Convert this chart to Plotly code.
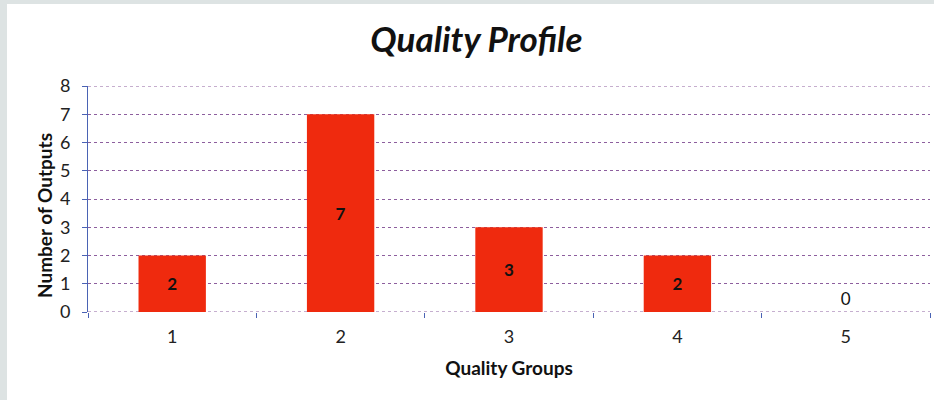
import plotly.graph_objects as go

W, H = 934, 400
M_L, M_R, M_T, M_B = 88, 4, 86, 88

groups = ["1", "2", "3", "4", "5"]
outputs = [2, 7, 3, 2, 0]
y_ticks = [0, 1, 2, 3, 4, 5, 6, 7, 8]

BAR_RED = "#ef2a0e"
GRID = "#8d5f9e"
AXIS_BLUE = "#4a63b4"
FONT = "Lato, 'Open Sans', sans-serif"

labels = [f"<b>{v}</b>" if v > 0 else str(v) for v in outputs]
positions = ["inside" if v > 0 else "outside" for v in outputs]

fig = go.Figure(go.Bar(
    x=groups, y=outputs,
    width=0.4,
    marker=dict(color=BAR_RED, line=dict(width=0)),
    text=labels, textposition=positions,
    insidetextanchor="middle",
    textfont=dict(family=FONT, size=17, color="#111111"),
    cliponaxis=False,
))

plot_w = W - M_L - M_R
plot_h = H - M_T - M_B

# grey frame of the scanned page (top and left strips)
fig.add_shape(
    type="rect", xref="paper", yref="paper", layer="below",
    x0=(7 - M_L) / plot_w, x1=(W - M_L + 5) / plot_w,
    y0=(H - M_B - H - 5) / plot_h, y1=(H - M_B - 4) / plot_h,
    fillcolor="white", line=dict(width=0),
)

# plotly drops gridlines at the range ends, so draw the 0 and 8 lines
for yv in (y_ticks[0], y_ticks[-1]):
    fig.add_hline(y=yv, line=dict(color=GRID, width=1, dash="dot"), layer="below")

# y axis title sits a little below the plot centre in the original
fig.add_annotation(
    text="<b>Number of Outputs</b>", textangle=-90,
    xref="paper", yref="paper",
    x=(44 - M_L) / plot_w, y=(H - M_B - 216) / plot_h,
    xanchor="center", yanchor="middle", showarrow=False,
    font=dict(family=FONT, size=19, color="#111111"),
)

fig.update_layout(
    width=W, height=H,
    margin=dict(l=M_L, r=M_R, t=M_T, b=M_B),
    paper_bgcolor="#dde3e3",
    plot_bgcolor="rgba(0,0,0,0)",
    font=dict(family=FONT, color="#111111"),
    title=dict(
        text="<b><i>Quality Profile</i></b>",
        x=0.51, xanchor="center", y=0.9, yanchor="middle",
        font=dict(family=FONT, size=35, color="#111111"),
    ),
    showlegend=False,
)
fig.update_xaxes(
    type="category", categoryorder="array", categoryarray=groups,
    range=[-0.5, 4.5],
    showgrid=False,
    showline=False,
    ticks="outside", tickson="boundaries", ticklen=5, tickcolor=AXIS_BLUE,
    ticklabelstandoff=12,
    tickfont=dict(size=18, color="#222222"),
    title=dict(text="<b>Quality Groups</b>", font=dict(size=19, color="#111111"), standoff=15),
)
fig.update_yaxes(
    range=[0, 8], tickvals=y_ticks,
    showgrid=True, gridcolor=GRID, griddash="dot", gridwidth=1,
    zeroline=False,
    showline=True, linecolor=AXIS_BLUE, linewidth=1,
    ticks="outside", ticklen=5, tickcolor=AXIS_BLUE,
    ticklabelstandoff=8,
    tickfont=dict(size=18, color="#222222"),
)

fig.write_html(
    "out.html",
    config={"displayModeBar": False},
    post_script="document.body.style.margin='0';",
)
